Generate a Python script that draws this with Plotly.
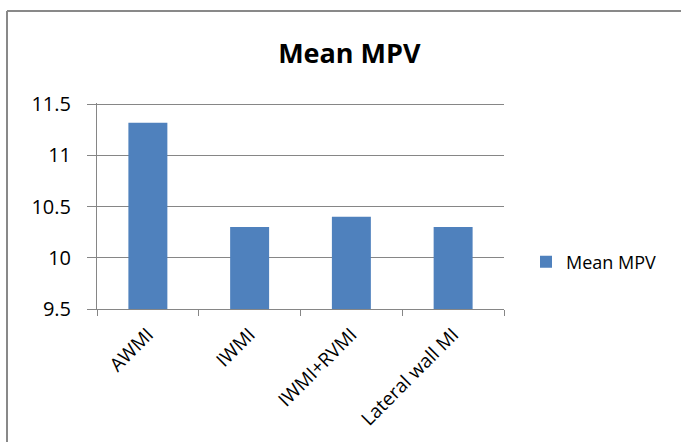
import plotly.graph_objects as go

# Mean platelet volume by infarct location
categories = ["AWMI", "IWMI", "IWMI+RVMI", "Lateral wall MI"]
mean_mpv = [11.32, 10.3, 10.4, 10.3]
series_name = "Mean MPV"
y_ticks = [9.5, 10, 10.5, 11, 11.5]

W, H = 681, 442
ML, MR, MT, MB = 97, 177, 103, 133
plot_w = W - ML - MR
plot_h = H - MT - MB

def px_x(px):
    return (px - ML) / plot_w

def px_y(py):
    return (H - MB - py) / plot_h

GRID = "#868686"
FONT = "Open Sans"

fig = go.Figure(
    go.Bar(
        x=categories,
        y=mean_mpv,
        name=series_name,
        marker=dict(color="#4F81BD", line=dict(width=0)),
        showlegend=True,
    )
)

fig.update_layout(
    width=W,
    height=H,
    margin=dict(l=ML, r=MR, t=MT, b=MB, pad=0),
    paper_bgcolor="white",
    plot_bgcolor="white",
    bargap=0.617,
    font=dict(family=FONT, color="#000000"),
    title=dict(
        text="<b>Mean MPV</b>",
        x=0.513,
        xanchor="center",
        xref="container",
        y=1 - 54 / H,
        yanchor="middle",
        yref="container",
        font=dict(family=FONT, size=27, color="#000000"),
    ),
    legend=dict(
        x=px_x(526),
        xanchor="left",
        y=px_y(262),
        yanchor="middle",
        bgcolor="rgba(0,0,0,0)",
        borderwidth=0,
        font=dict(family=FONT, size=18, color="#000000"),
    ),
    xaxis=dict(
        type="category",
        tickson="boundaries",
        ticks="outside",
        ticklen=6,
        tickcolor=GRID,
        tickwidth=1,
        showgrid=False,
        showline=True,
        linecolor=GRID,
        linewidth=1,
        tickangle=-45,
        ticklabelstandoff=6,
        tickfont=dict(family=FONT, size=19, color="#000000"),
    ),
    yaxis=dict(
        range=[9.5, 11.512],
        tickvals=y_ticks,
        ticktext=[f"{v:g}" for v in y_ticks],
        ticks="outside",
        ticklen=9,
        tickcolor=GRID,
        tickwidth=1,
        showgrid=True,
        gridcolor=GRID,
        gridwidth=1,
        showline=True,
        linecolor=GRID,
        linewidth=1,
        zeroline=False,
        ticklabelstandoff=12,
        tickfont=dict(family=FONT, size=20, color="#000000"),
    ),
)

# Outer chart frame (top and left edges)
frame = dict(color="#898989", width=2)
fig.add_shape(type="line", xref="paper", yref="paper",
              x0=px_x(7), x1=px_x(W), y0=px_y(11), y1=px_y(11), line=frame)
fig.add_shape(type="line", xref="paper", yref="paper",
              x0=px_x(7), x1=px_x(7), y0=px_y(11), y1=px_y(H), line=frame)

fig.write_html("out.html")
